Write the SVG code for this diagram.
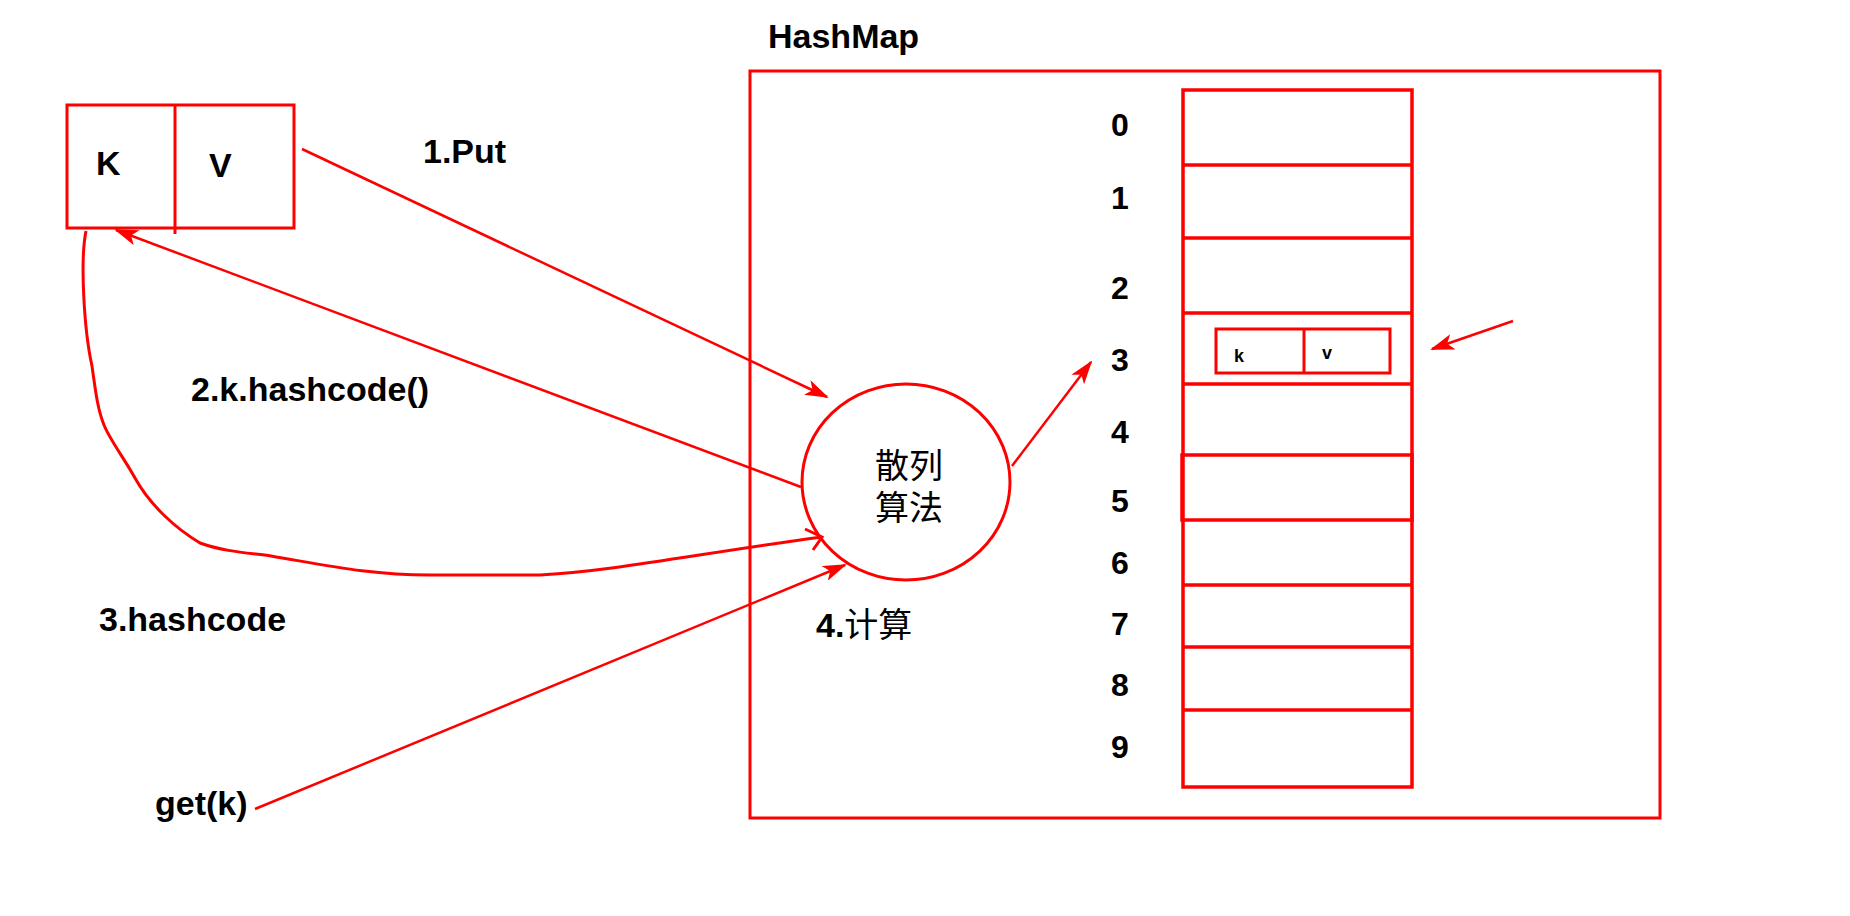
<svg xmlns="http://www.w3.org/2000/svg" width="1850" height="916" viewBox="0 0 1850 916">
<defs>
<marker id="ah" markerUnits="userSpaceOnUse" markerWidth="24" markerHeight="16" viewBox="0 0 24 16" refX="22" refY="8" orient="auto">
<path d="M0,0 L24,8 L0,16 L6,8 Z" fill="#ff0000"/>
</marker>
</defs>
<style>
.r{fill:none;stroke:#ff0000;stroke-width:3}
.b{fill:none;stroke:#ff0000;stroke-width:3.5}
.c{fill:none;stroke:#ff0000;stroke-width:2.5;marker-end:url(#ah)}
.t{font-family:"Liberation Sans",Arial,sans-serif;font-weight:bold;font-size:34px;fill:#000}
.n{font-family:"Liberation Sans",Arial,sans-serif;font-weight:bold;font-size:32px;fill:#000;text-anchor:middle}
.s{font-family:"Liberation Sans",Arial,sans-serif;font-weight:bold;font-size:18px;fill:#000}
.z{font-family:"Noto Sans CJK SC",sans-serif;font-size:34px;fill:#000}
</style>
<rect width="1850" height="916" fill="#fff"/>
<g id="kv">
<rect class="r" x="67" y="105" width="227" height="123"/>
<line class="r" x1="175" y1="105" x2="175" y2="234"/>
<text class="t" x="96" y="175">K</text>
<text class="t" x="209" y="177">V</text>
</g>
<g id="hashmap">
<text class="t" x="768" y="48">HashMap</text>
<rect class="r" x="750" y="71" width="910" height="747"/>
</g>
<g id="buckets">
<rect class="b" x="1183" y="90" width="229" height="697"/>
<line class="b" x1="1183" y1="165" x2="1412" y2="165"/>
<line class="b" x1="1183" y1="238" x2="1412" y2="238"/>
<line class="b" x1="1183" y1="313" x2="1412" y2="313"/>
<line class="b" x1="1183" y1="384" x2="1412" y2="384"/>
<rect class="b" x="1182" y="455" width="230" height="65"/>
<line class="b" x1="1183" y1="585" x2="1412" y2="585"/>
<line class="b" x1="1183" y1="647" x2="1412" y2="647"/>
<line class="b" x1="1183" y1="710" x2="1412" y2="710"/>
<text class="n" x="1120" y="136">0</text>
<text class="n" x="1120" y="209">1</text>
<text class="n" x="1120" y="299">2</text>
<text class="n" x="1120" y="371">3</text>
<text class="n" x="1120" y="443">4</text>
<text class="n" x="1120" y="512">5</text>
<text class="n" x="1120" y="574">6</text>
<text class="n" x="1120" y="635">7</text>
<text class="n" x="1120" y="696">8</text>
<text class="n" x="1120" y="758">9</text>
</g>
<g id="entry">
<rect class="r" x="1216" y="329" width="174" height="44"/>
<line class="r" x1="1304" y1="329" x2="1304" y2="373"/>
<text class="s" x="1234" y="362">k</text>
<text class="s" x="1322" y="359">v</text>
</g>
<g id="hash">
<ellipse class="r" cx="906" cy="482" rx="104" ry="98"/>
<text class="z" x="909" y="478" text-anchor="middle">散列</text>
<text class="z" x="909" y="520" text-anchor="middle">算法</text>
</g>
<g id="labels">
<text class="t" x="423" y="163">1.Put</text>
<text class="t" x="191" y="401">2.k.hashcode()</text>
<text class="t" x="99" y="631">3.hashcode</text>
<text class="t" x="155" y="815">get(k)</text>
<text x="816" y="637"><tspan class="t">4.</tspan><tspan class="z" font-size="33px">计算</tspan></text>
</g>
<g id="connectors">
<line class="c" x1="302" y1="149" x2="827" y2="397"/>
<line class="c" x1="801" y1="487" x2="116" y2="230"/>
<line class="c" x1="255" y1="809" x2="845" y2="565"/>
<line class="c" x1="1012" y1="466" x2="1091" y2="362"/>
<line class="c" x1="1513" y1="321" x2="1432" y2="349"/>
<path class="r" d="M86,231 C80,260 84,330 92,366 C96,395 98,410 104,425 C110,440 124,458 135,478 C150,505 175,528 200,543 C225,552 250,553 271,556 C330,566 370,575 430,575 L540,575 C620,570 690,555 822,537"/>
<polyline class="r" points="805,529 822,537 813,550"/>
</g>
</svg>
